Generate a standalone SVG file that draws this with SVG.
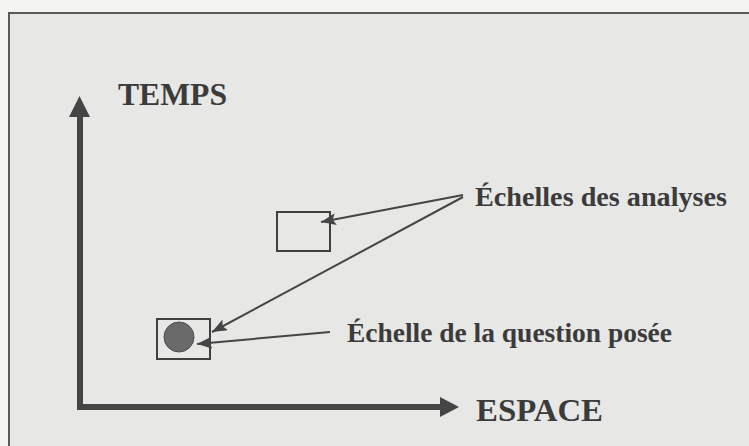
<svg xmlns="http://www.w3.org/2000/svg" width="749" height="446" viewBox="0 0 749 446">
  <style>
    .lbl { font-family: "Liberation Serif", "Times New Roman", serif; font-weight: bold; fill: #3b3b3b; }
    .axis { fill: none; stroke: #454545; stroke-width: 6; stroke-linejoin: miter; }
    .ptr { fill: none; stroke: #454545; stroke-width: 2; marker-end: url(#ah); }
    .box { fill: none; stroke: #3f3f3f; stroke-width: 2; }
  </style>
  <defs>
    <marker id="ah" markerUnits="userSpaceOnUse" markerWidth="16" markerHeight="12" refX="15" refY="6" orient="auto">
      <path d="M0,0 L15,6 L0,12 L3,6 Z" fill="#454545"/>
    </marker>
  </defs>
  <rect x="0" y="0" width="749" height="446" fill="#f3f3f2"/>
  <rect x="9" y="13" width="750" height="450" fill="#e7e7e5" stroke="#5a5a5a" stroke-width="2"/>

  <g id="axes">
    <path class="axis" d="M80,116 V407 H441"/>
    <polygon points="79.5,96 90,117 69,117" fill="#454545"/>
    <polygon points="459,407 440,397 440,417" fill="#454545"/>
  </g>

  <g id="temps"><text class="lbl" x="118" y="105" font-size="32" textLength="109" lengthAdjust="spacingAndGlyphs">TEMPS</text></g>
  <g id="espace"><text class="lbl" x="476" y="421" font-size="32" textLength="127" lengthAdjust="spacingAndGlyphs">ESPACE</text></g>

  <g id="analyses-box"><rect class="box" x="277" y="212" width="53" height="39"/></g>
  <g id="question-box">
    <rect class="box" x="157" y="319" width="53" height="40"/>
    <circle cx="179" cy="337" r="15" fill="#6a6a6a" stroke="#4a4a4a" stroke-width="1"/>
  </g>

  <g id="label-analyses"><text class="lbl" x="475" y="206" font-size="27.5" textLength="252" lengthAdjust="spacingAndGlyphs">Échelles des analyses</text></g>
  <g id="label-question"><text class="lbl" x="347" y="342" font-size="27.5" textLength="325" lengthAdjust="spacingAndGlyphs">Échelle de la question posée</text></g>

  <g id="connectors">
    <line class="ptr" x1="463" y1="195" x2="321" y2="222"/>
    <line class="ptr" x1="463" y1="197" x2="212" y2="332"/>
    <line class="ptr" x1="330" y1="332" x2="197" y2="344"/>
  </g>
</svg>
